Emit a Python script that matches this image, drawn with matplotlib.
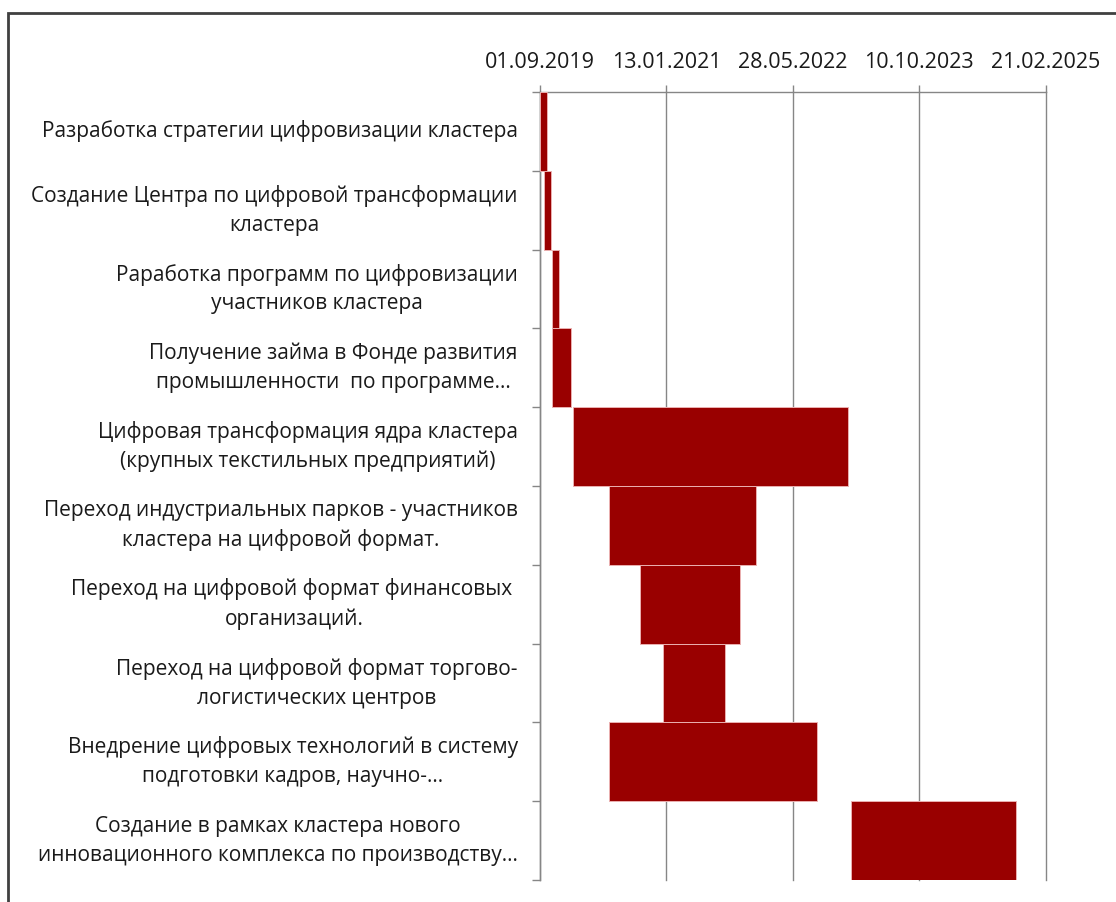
import datetime as dt
import matplotlib
matplotlib.use("Agg")
import matplotlib.pyplot as plt
import matplotlib.dates as mdates
from matplotlib.patches import Rectangle
from matplotlib.ticker import FixedLocator, NullFormatter

plt.rcParams['font.family'] = ['Open Sans', 'DejaVu Sans']

tasks = [
    "Разработка стратегии цифровизации кластера",
    "Создание Центра по цифровой трансформации\nкластера",
    "Раработка программ по цифровизации\nучастников кластера",
    "Получение займа в Фонде развития\nпромышленности  по программе…",
    "Цифровая трансформация ядра кластера\n(крупных текстильных предприятий)",
    "Переход индустриальных парков - участников\nкластера на цифровой формат.",
    "Переход на цифровой формат финансовых \nорганизаций.",
    "Переход на цифровой формат торгово-\nлогистических центров",
    "Внедрение цифровых технологий в систему\nподготовки кадров, научно-…",
    "Создание в рамках кластера нового\nинновационного комплекса по производству…",
]
start_dates = ["2019-09-01", "2019-09-18", "2019-10-17", "2019-10-17", "2020-01-10",
               "2020-06-01", "2020-10-01", "2021-01-01", "2020-06-01", "2023-01-12"]
end_dates = ["2019-09-30", "2019-10-14", "2019-11-16", "2020-01-01", "2022-12-31",
             "2022-01-01", "2021-11-01", "2021-09-01", "2022-09-01", "2024-10-29"]
tick_dates = ["2019-09-01", "2021-01-13", "2022-05-28", "2023-10-10", "2025-02-21"]


def to_num(s):
    return mdates.date2num(dt.datetime.strptime(s, "%Y-%m-%d"))


starts = [to_num(s) for s in start_dates]
ends = [to_num(s) for s in end_dates]
ticks = [to_num(s) for s in tick_dates]

fig = plt.figure(figsize=(11.16, 9.02), dpi=100)
ax = fig.add_axes([540 / 1116, 1 - 880 / 902, 505.5 / 1116, 788 / 902])

ypos = list(range(len(tasks)))
ax.barh(ypos, [e - s for s, e in zip(starts, ends)], left=starts, height=1.0,
        color="#990000", edgecolor="#eab0b0", linewidth=0.7, zorder=3)

ax.set_xlim(ticks[0], ticks[-1])
ax.set_ylim(len(tasks) - 0.5, -0.5)

ax.xaxis.tick_top()
ax.set_xticks(ticks)
ax.xaxis.set_major_formatter(mdates.DateFormatter("%d.%m.%Y"))
ax.tick_params(axis="x", direction="out", length=5, width=1, color="#868686",
               labelsize=15.5, pad=9, labelcolor="#1a1a1a")
ax.grid(axis="x", color="#868686", linewidth=1, zorder=0)
for gl in ax.get_xgridlines():
    gl.set_clip_on(False)

ax.set_yticks(ypos)
ax.set_yticklabels(tasks, ha="right", va="center", multialignment="center",
                   linespacing=1.5)
ax.tick_params(axis="y", which="major", length=0, pad=16, labelsize=15,
               labelcolor="#1a1a1a")
ax.yaxis.set_minor_locator(FixedLocator([i - 0.5 for i in range(len(tasks) + 1)]))
ax.yaxis.set_minor_formatter(NullFormatter())
ax.tick_params(axis="y", which="minor", direction="out", length=6, width=1,
               color="#868686")

for side in ("right", "bottom"):
    ax.spines[side].set_visible(False)
for side in ("top", "left"):
    ax.spines[side].set_color("#868686")
    ax.spines[side].set_linewidth(1)

# outer chart frame
fig.add_artist(Rectangle((8 / 1116, -0.1), 1.2, 1 - 13 / 902 + 0.1,
                         transform=fig.transFigure, fill=False,
                         edgecolor="#404040", linewidth=2))

fig.savefig("out.png", dpi=100)
